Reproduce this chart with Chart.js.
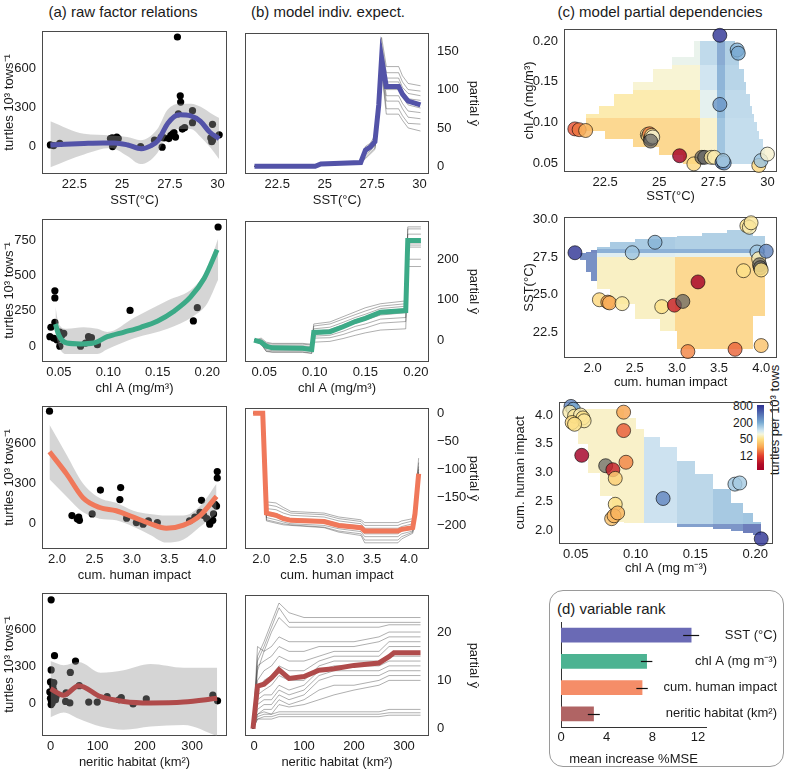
<!DOCTYPE html>
<html lang="en">
<head>
<meta charset="UTF-8">
<title>Turtle factor relations</title>
<script src="https://cdn.jsdelivr.net/npm/chart.js"></script>
<style>
  body { margin: 0; background: #fff; font-family: "Liberation Sans", Arial, sans-serif; }
  #page { position: relative; width: 785px; height: 771px; overflow: hidden; }
  #page canvas { position: absolute; }
  .ttl { position: absolute; font-size: 15px; color: #1a1a1a; white-space: nowrap; line-height: 18px; }
  .lab { position: absolute; font-size: 12px; color: #1a1a1a; white-space: nowrap; line-height: 14px; }
</style>
</head>
<body>
<div id="page">
  <div class="ttl" style="left:123px;top:3px;transform:translateX(-50%)">(a) raw factor relations</div>
  <div class="ttl" style="left:328px;top:3px;transform:translateX(-50%)">(b) model indiv. expect.</div>
  <div class="ttl" style="left:660px;top:3px;transform:translateX(-50%)">(c) model partial dependencies</div>
  <div style="position:absolute;left:549px;top:590px;width:233px;height:175px;border:1px solid #9a9a9a;border-radius:14px;"></div>
  <div class="ttl" style="left:557px;top:600px">(d) variable rank</div>
  <div id="cbar" style="position:absolute;left:757px;top:405px;width:7px;height:65px;"></div>
  <div class="lab" style="right:32px;top:399px">800</div>
  <div class="lab" style="right:32px;top:416px">200</div>
  <div class="lab" style="right:32px;top:432px">50</div>
  <div class="lab" style="right:32px;top:449px">12</div>
  <div class="lab" style="left:775px;top:420px;font-size:13px;transform:translate(-50%,-50%) rotate(-90deg)">turtles per 10³ tows</div>
</div>

<script>
// ---------- (a) raw observations, loess fits and bands ----------
const sstObsX = [21.24, 21.41, 21.73, 24.39, 24.48, 24.55, 24.6, 24.66, 24.72, 24.5, 24.8, 25.97, 26.7, 27.05, 27.1, 27.2, 27.45, 27.55, 27.65, 27.72, 27.8, 27.9, 27.95, 28.05, 28.07, 28.16, 28.28, 28.69, 28.69, 29.74, 29.65, 29.7, 29.74, 30.09];
const sstObsY = [12, 7, 24, 61, 66, 12, 49, 37, 73, 0, 61, 0, 49, 73, -5, 66, 61, 86, 98, 108, 73, 845, 252, 392, 343, 135, 147, 277, 184, 171, 66, 37, 49, 90];
const sstFitX = [21.24, 22.0, 23.0, 24.0, 24.6, 25.3, 26.0, 26.5, 26.9, 27.4, 28.0, 28.6, 29.1, 29.6, 30.09];
const sstFitY = [12, 18, 24, 28, 28, 12, -17, 5, 49, 180, 245, 237, 196, 110, 61];
const sstBandX = [21.24, 23.0, 24.4, 25.27, 25.97, 26.85, 27.37, 28.07, 28.6, 29.12, 29.65, 30.09];
const sstBandHi = [196, 98, 86, 73, 49, 135, 282, 330, 330, 306, 257, 220];
const sstBandLo = [-159, -61, -12, -73, -135, -49, 98, 135, 135, 73, -12, -98];

const chlObsX = [0.046, 0.046, 0.046, 0.042, 0.041, 0.045, 0.048, 0.051, 0.053, 0.051, 0.055, 0.072, 0.077, 0.080, 0.081, 0.083, 0.089, 0.122, 0.186, 0.19, 0.211];
const chlObsY = [392, 342, 168, 134, 67, 56, 45, 0, 78, 100, 90, 0, 22, 67, 45, 60, 11, 253, 179, 273, 844];
const chlFitX = [0.0466, 0.05, 0.058, 0.072, 0.085, 0.099, 0.116, 0.133, 0.15, 0.166, 0.183, 0.197, 0.21];
const chlFitY = [157, 78, 22, 16, 22, 67, 100, 134, 179, 246, 347, 481, 683];
const chlBandX = [0.0466, 0.05, 0.058, 0.075, 0.089, 0.099, 0.126, 0.16, 0.186, 0.2, 0.211];
const chlBandHi = [280, 157, 123, 134, 123, 100, 201, 324, 414, 548, 761];
const chlBandLo = [100, 0, -56, -56, -56, -22, 56, 123, 212, 302, 470];

const impObsX = [1.9, 2.2, 2.29, 2.3, 2.27, 2.47, 2.58, 2.85, 2.84, 2.93, 3.06, 3.15, 3.22, 3.34, 3.77, 3.84, 3.91, 3.93, 3.96, 4.0, 4.04, 4.04, 4.08, 4.09, 4.11, 4.13, 4.14, 4.14];
const impObsY = [837, 59, 47, 24, 35, 71, 249, 268, 178, 40, 7, -5, 19, 7, 19, 47, 83, 173, 59, 36, 12, -5, 24, 71, 142, 130, 387, 339];
const impFitX = [1.9, 2.13, 2.35, 2.57, 2.79, 3.02, 3.24, 3.46, 3.69, 3.91, 4.13];
const impFitY = [534, 368, 190, 119, 95, 47, 0, -36, -12, 59, 202];
const impBandHi = [735, 510, 296, 190, 154, 95, 71, 59, 59, 130, 296];
const impBandLo = [330, 200, 83, 36, 24, -24, -83, -142, -119, -24, 71];

const nerObsX = [1.4, 8.5, 1.4, 0, -1.4, 0, 1.4, 3.5, 7, 7, 10.6, 3.5, 33, 32, 42, 53, 41, 61, 81, 99, 120, 145, 150, 175, 203, 344, 354, 5, 2, 12];
const nerObsY = [834, 386, 272, 176, 96, 45, -5, 70, 171, 108, 33, 8, 88, 20, 252, 343, 8, 146, 15, 15, 58, 33, 50, 0, 40, 70, 25, 140, 20, 60];
const nerFitX = [0, 28, 60, 106, 155, 212, 282, 353];
const nerFitY = [121, 70, 146, 58, 20, 8, 15, 45];
const nerBandHi = [343, 310, 335, 250, 270, 320, 290, 290];
const nerBandLo = [-106, -68, -118, -181, -207, -181, -169, -257];

// ---------- (b) individual conditional expectation curves ----------
const iceSstX = [21.3, 24.5, 24.8, 26.9, 27.15, 27.4, 27.65, 27.85, 28.0, 28.25, 28.9, 29.1, 29.4, 30.05];
const iceSstMean = [0, 0, 3, 5, 21, 25, 32, 80, 141, 104, 104, 94, 85, 80];
const iceSstLines = [
  [0, 0, 3, 6, 26, 30, 40, 90, 168, 130, 130, 118, 108, 105],
  [0, 0, 3, 6, 24, 28, 36, 85, 160, 122, 122, 110, 100, 98],
  [0, 0, 3, 5, 22, 27, 34, 82, 152, 115, 115, 103, 95, 92],
  [0, 0, 3, 5, 20, 26, 33, 80, 146, 110, 110, 98, 88, 86],
  [0, 0, 2, 5, 19, 24, 31, 78, 140, 100, 100, 90, 80, 76],
  [0, 0, 2, 5, 17, 22, 29, 75, 135, 92, 92, 82, 72, 70],
  [0, 0, 2, 4, 15, 20, 27, 72, 130, 85, 85, 75, 64, 62],
  [0, 0, 2, 4, 12, 18, 24, 70, 128, 75, 75, 66, 56, 55],
  [0, 0, 2, 4, 10, 16, 22, 68, 125, 68, 68, 60, 50, 46]
];
const iceChlX = [0.04, 0.047, 0.052, 0.058, 0.088, 0.097, 0.099, 0.115, 0.128, 0.14, 0.15, 0.165, 0.19, 0.192, 0.205];
const iceChlMean = [0, -5, -15, -19, -20, -23, 19, 21, 33, 46, 54, 69, 73, 246, 246];
const iceChlLines = [
  [0, 5, -5, -8, -8, -10, 40, 45, 58, 70, 80, 90, 97, 280, 280],
  [0, 2, -8, -10, -10, -12, 35, 40, 52, 63, 72, 84, 90, 275, 275],
  [0, 0, -12, -14, -14, -16, 28, 32, 44, 56, 64, 78, 84, 262, 262],
  [0, -3, -16, -18, -18, -20, 22, 26, 38, 50, 58, 72, 78, 240, 240],
  [0, -6, -20, -22, -22, -25, 14, 18, 30, 42, 50, 62, 68, 235, 235],
  [0, -8, -24, -26, -26, -28, 10, 12, 22, 34, 40, 52, 56, 230, 230],
  [0, -10, -27, -29, -29, -32, 5, 6, 14, 24, 30, 42, 46, 200, 200],
  [0, -10, -28, -30, -30, -33, -5, -3, 4, 12, 18, 25, 28, 182, 182]
];
const iceImpX = [1.89, 2.02, 2.07, 2.2, 2.3, 2.4, 2.85, 3.05, 3.35, 3.4, 3.85, 3.9, 4.05, 4.08, 4.13];
const iceImpMean = [0, 0, -178, -182, -188, -191, -193, -200, -204, -210, -210, -207, -204, -180, -108];
const iceImpLines = [
  [0, 0, -158, -160, -168, -175, -178, -185, -190, -195, -195, -192, -188, -160, -80],
  [0, 0, -163, -166, -172, -178, -181, -188, -193, -200, -200, -197, -192, -165, -88],
  [0, 0, -170, -172, -178, -182, -185, -192, -197, -205, -205, -202, -197, -170, -95],
  [0, 0, -176, -179, -184, -188, -190, -197, -201, -210, -210, -206, -202, -175, -100],
  [0, 0, -182, -185, -190, -193, -195, -202, -207, -215, -215, -210, -206, -180, -105],
  [0, 0, -186, -190, -194, -197, -200, -206, -211, -220, -220, -215, -210, -185, -110],
  [0, 0, -190, -194, -197, -199, -203, -210, -215, -226, -226, -220, -212, -188, -110],
  [0, 0, -192, -196, -199, -200, -204, -212, -218, -231, -231, -224, -214, -190, -112]
];
const iceNerX = [-2, 7, 20, 35, 50, 70, 100, 130, 160, 200, 250, 270, 280, 333];
const iceNerMean = [0, 8.8, 9.2, 10.5, 12.2, 10.4, 10.8, 12.1, 12.4, 13.1, 13.6, 14.9, 15.7, 15.7];
const iceNerLines = [
  [0, 15, 18, 22, 26, 24, 23, 23, 23, 23, 23, 23, 23, 23],
  [0, 14, 17, 21, 25, 22, 22, 22, 22, 22, 22, 22, 22, 22],
  [0, 12, 16, 20, 23, 21, 21, 21, 21, 21, 21, 21.5, 21.5, 21.5],
  [0, 17, 16, 17, 19, 18, 18, 18, 18, 18, 19, 20, 20, 20],
  [0, 13, 14, 15, 17, 16, 16, 17, 17, 17, 18, 19, 19, 19],
  [0, 10, 12, 13, 15, 14, 14, 15, 16, 16, 16, 18, 18, 18],
  [0, 8, 10, 11, 13, 12, 12, 14, 15, 15, 15, 17, 17, 17],
  [0, 7, 8, 9, 11, 10, 10, 13, 14, 14, 14, 15, 15, 15],
  [0, 6, 7, 7, 9, 8, 9, 12, 13, 13, 13, 14, 14, 14],
  [0, 5, 6, 6, 8, 7, 8, 11, 12, 12, 12, 13, 13, 13],
  [0, 4, 5, 5, 7, 6, 7, 10, 11, 11, 11, 12, 12, 12],
  [0, 3, 4, 4, 6, 5, 6, 8, 9, 9, 10, 11, 11, 11],
  [0, 3, 3.5, 3, 5, 4.5, 5, 6, 7, 8, 9, 10, 10, 10],
  [0, 2.5, 3, 3, 3.5, 3.5, 3.5, 3.5, 3.5, 3.5, 3.5, 4, 4, 4],
  [0, 2, 2.5, 2.5, 3, 3, 3, 3, 3, 3, 3, 3.3, 3.3, 3.3],
  [0, 2, 2, 2, 2.5, 2.5, 2.5, 2.5, 2.5, 2.5, 2.5, 2.8, 2.8, 2.8]
];

// ---------- (c) two-way partial dependence: hull strips, zones, observed sites ----------
const c1StripLo = [0.049, 0.06, 0.07, 0.08, 0.09, 0.1, 0.11, 0.12, 0.135, 0.15, 0.165, 0.18];
const c1StripHi = [0.06, 0.07, 0.08, 0.09, 0.1, 0.11, 0.12, 0.135, 0.15, 0.165, 0.18, 0.2];
const c1StripFrom = [26.1, 25.0, 23.8, 22.5, 21.6, 21.6, 22.2, 22.9, 23.8, 24.7, 25.6, 26.6];
const c1StripTo = [30.0, 29.9, 29.8, 29.6, 29.5, 29.4, 29.3, 29.2, 29.0, 28.9, 28.7, 28.5];
const c1BreakX = [26.9, 27.68, 28.05];
const c1BreakY = [0.105, 0.14, 0.17];
const c1Zone = [[40, 65, 175, 125], [55, 90, 200, 130], [68, 110, 220, 140], [85, 130, 250, 150]];
const c1SiteX = [27.8, 28.6, 28.65, 27.8, 21.1, 21.3, 21.6, 24.45, 24.5, 24.55, 24.6, 24.65, 24.7, 24.6, 25.94, 26.6, 26.97, 27.1, 27.4, 27.55, 27.9, 28.0, 27.95, 29.6, 29.7, 30.0];
const c1SiteY = [0.207, 0.189, 0.185, 0.122, 0.092, 0.091, 0.09, 0.085, 0.083, 0.086, 0.08, 0.084, 0.082, 0.077, 0.059, 0.049, 0.057, 0.057, 0.057, 0.057, 0.051, 0.05, 0.053, 0.047, 0.053, 0.061];
const c1SiteN = [845, 180, 200, 250, 14, 18, 30, 60, 45, 20, 0, 55, 70, 0, 5, 45, 0, 0, 55, 60, 300, 250, 140, 45, 150, 70];

const c2StripLo = [1.85, 1.92, 1.98, 2.05, 2.2, 2.5, 2.8, 3.0, 3.3, 3.6, 3.9];
const c2StripHi = [1.92, 1.98, 2.05, 2.2, 2.5, 2.8, 3.0, 3.3, 3.6, 3.9, 4.05];
const c2StripFrom = [27.3, 26.5, 25.9, 25.4, 24.4, 23.4, 22.6, 21.35, 21.35, 21.35, 23.6];
const c2StripTo = [27.8, 27.85, 27.95, 28.2, 28.5, 28.7, 28.85, 28.95, 29.1, 29.3, 28.9];
const c2BreakX = [2.05, 2.98];
const c2BreakY = [27.5, 27.75, 28.05];
const c2Zone = [[380, 62, 40], [380, 95, 90], [420, 230, 230], [380, 160, 150]];
const c2SiteX = [1.79, 2.47, 2.74, 2.08, 2.18, 2.2, 2.35, 2.82, 2.97, 3.07, 3.25, 3.13, 3.69, 4.0, 3.79, 3.83, 3.86, 3.88, 3.95, 3.97, 3.98, 3.99, 4.06, 4.0];
const c2SiteY = [27.8, 27.8, 28.5, 24.66, 24.5, 24.45, 24.4, 24.2, 24.3, 24.55, 25.85, 21.2, 21.35, 21.6, 26.6, 29.6, 29.5, 29.8, 27.85, 27.4, 27.0, 26.8, 27.9, 26.65];
const c2SiteN = [845, 150, 180, 45, 25, 28, 55, 50, 8, 0, 5, 20, 16, 35, 50, 50, 60, 55, 150, 60, 0, 0, 300, 50];

const c3StripLo = [0.052, 0.06, 0.07, 0.08, 0.09, 0.1, 0.107, 0.12, 0.135, 0.15, 0.165, 0.18, 0.19, 0.198];
const c3StripHi = [0.06, 0.07, 0.08, 0.09, 0.1, 0.107, 0.12, 0.135, 0.15, 0.165, 0.18, 0.19, 0.198, 0.205];
const c3StripFrom = [3.5, 3.0, 2.6, 2.14, 2.12, 2.12, 2.12, 2.12, 2.06, 2.06, 2.02, 1.98, 1.95, 1.92];
const c3StripTo = [4.1, 4.1, 4.1, 4.1, 3.95, 3.75, 3.62, 3.45, 3.2, 2.97, 2.72, 2.48, 2.3, 2.15];
const c3BreakX = [0.107, 0.135, 0.165, 0.19];
const c3BreakY = [2.1];
const c3Zone = [[55, 115, 300, 350, 500], [64, 115, 135, 165, 175]];
const c3SiteX = [0.046, 0.048, 0.045, 0.049, 0.054, 0.056, 0.057, 0.047, 0.049, 0.055, 0.09, 0.09, 0.092, 0.075, 0.081, 0.083, 0.083, 0.08, 0.082, 0.085, 0.123, 0.183, 0.187, 0.205];
const c3SiteY = [4.15, 4.1, 4.05, 3.98, 4.0, 3.95, 3.9, 3.87, 3.84, 3.3, 4.05, 3.73, 3.18, 3.12, 3.05, 2.9, 2.45, 2.2, 2.25, 2.3, 2.55, 2.8, 2.82, 1.85];
const c3SiteN = [300, 200, 60, 55, 60, 50, 55, 45, 50, 5, 25, 15, 20, 0, 8, 40, 50, 35, 30, 30, 300, 150, 140, 845];

// ---------- (d) variable importance ----------
const rankLabels = ['SST (°C)', 'chl A (mg m⁻³)', 'cum. human impact', 'neritic habitat (km²)'];
const rankVals = [11.4, 7.5, 7.1, 2.85];
const rankErrLo = [10.7, 7.0, 6.6, 2.35];
const rankErrHi = [12.1, 8.0, 7.6, 3.4];

// ---------- tick values ----------
const tickSst = [22.5, 25, 27.5, 30];
const tickChl = [0.05, 0.1, 0.15, 0.2];
const tickImp = [2, 2.5, 3, 3.5, 4];
const tickNer = [0, 100, 200, 300];
const tickRawSst = [0, 300, 600];
const tickRawChl = [0, 250, 500, 750];
const tickIceSst = [0, 50, 100, 150];
const tickIceChl = [0, 100, 200];
const tickIceImp = [-200, -150, -100, -50, 0];
const tickIceNer = [0, 10, 20];
const tickSstY = [22.5, 25, 27.5, 30];
const tickMse = [0, 4, 8, 12];

// ---------- styling ----------
const COL_SST = '#5353a8', COL_CHL = '#3caa87', COL_IMP = '#f0785a', COL_NER = '#b04b4b';
const BAR_COLS = ['#6a6ab5', '#4db392', '#f58d68', '#b06464'];
const HEAT_ALPHA = 0.8;
const CM_V = [5, 12, 25, 50, 75, 100, 200, 800];
const CM_C = [[165, 0, 38], [225, 60, 45], [248, 165, 80], [253, 225, 135], [244, 246, 222], [210, 232, 242], [120, 170, 210], [50, 55, 150]];

function turtleRGB(v) {
  if (v <= 0) return [95, 95, 95];
  if (v <= CM_V[0]) return CM_C[0];
  for (let i = 1; i < CM_V.length; i++) {
    if (v <= CM_V[i]) {
      const t = (Math.log(v) - Math.log(CM_V[i - 1])) / (Math.log(CM_V[i]) - Math.log(CM_V[i - 1]));
      return CM_C[i - 1].map((c, k) => Math.round(c + t * (CM_C[i][k] - c)));
    }
  }
  return CM_C[CM_C.length - 1];
}
function paleRGB(v) {
  const c = turtleRGB(v).map(k => Math.round(k * HEAT_ALPHA + 255 * (1 - HEAT_ALPHA)));
  return `rgb(${c[0]},${c[1]},${c[2]})`;
}
function siteRGBA(v) {
  const c = turtleRGB(v);
  return `rgba(${c[0]},${c[1]},${c[2]},${v <= 0 ? 0.7 : 0.82})`;
}

// colour bar (log scale, 800 at top)
(function () {
  const stops = [870, 800, 400, 200, 100, 75, 50, 25, 12, 6, 3.7];
  const top = Math.log(870), bot = Math.log(3.7);
  const parts = stops.map(v => {
    const c = turtleRGB(v);
    return `rgb(${c[0]},${c[1]},${c[2]}) ${((top - Math.log(v)) / (top - bot) * 100).toFixed(1)}%`;
  });
  document.getElementById('cbar').style.background = `linear-gradient(to bottom, ${parts.join(', ')})`;
})();

const FONT = '"Liberation Sans", Arial, sans-serif';
Chart.defaults.font.family = FONT;
Chart.defaults.font.size = 13;
Chart.defaults.color = '#1a1a1a';

const page = document.getElementById('page');

function makeCanvas(L, T, W, H, m) {
  const c = document.createElement('canvas');
  const cw = W + m.l + m.r, ch = H + m.t + m.b;
  c.width = cw; c.height = ch;
  c.style.left = (L - m.l) + 'px'; c.style.top = (T - m.t) + 'px';
  c.style.width = cw + 'px'; c.style.height = ch + 'px';
  page.appendChild(c);
  return c;
}

const xy = (xs, ys) => xs.map((x, i) => ({ x, y: ys[i] }));
const minus = v => (v < 0 ? '\u2212' + Math.abs(v) : String(v));

function axis(pos, min, max, vals, title, size, fmt) {
  const horiz = pos === 'bottom';
  const ticks = { padding: horiz ? 3 : (pos === 'right' ? 8 : 6), maxRotation: 0, autoSkip: false };
  if (fmt) ticks.callback = fmt;
  return {
    type: 'linear', position: pos, min, max,
    grid: { display: false, drawTicks: false },
    border: { display: false },
    ticks,
    afterBuildTicks(ax) { ax.ticks = vals.map(v => ({ value: v })); },
    title: { display: !!title, text: title, padding: { top: 2, bottom: 2 } },
    afterFit(ax) { if (horiz) ax.height = size; else ax.width = size; }
  };
}

function baseOptions(x, y, pad) {
  return {
    responsive: false, animation: false, devicePixelRatio: 1,
    layout: { padding: pad },
    plugins: { legend: { display: false }, tooltip: { enabled: false } },
    scales: { x, y }
  };
}

const framePlugin = {
  id: 'frame',
  beforeDatasetsDraw(chart) {
    const a = chart.chartArea, ctx = chart.ctx;
    ctx.save();
    ctx.strokeStyle = '#4a4a4a'; ctx.lineWidth = 1;
    ctx.strokeRect(Math.round(a.left) + 0.5, Math.round(a.top) + 0.5, Math.round(a.width) - 1, Math.round(a.height) - 1);
    ctx.restore();
  }
};

function heatPlugin(dir, lo, hi, from, to, bx, by, zone) {
  return {
    id: 'heat',
    beforeDatasetsDraw(chart) {
      const { ctx, scales: { x, y } } = chart;
      ctx.save();
      for (let i = 0; i < lo.length; i++) {
        const x0 = dir === 'h' ? from[i] : lo[i], x1 = dir === 'h' ? to[i] : hi[i];
        const y0 = dir === 'h' ? lo[i] : from[i], y1 = dir === 'h' ? hi[i] : to[i];
        const xs = [x0, ...bx.filter(b => b > x0 && b < x1), x1];
        const ys = [y0, ...by.filter(b => b > y0 && b < y1), y1];
        for (let a = 0; a < xs.length - 1; a++) {
          for (let b = 0; b < ys.length - 1; b++) {
            const cx = (xs[a] + xs[a + 1]) / 2, cy = (ys[b] + ys[b + 1]) / 2;
            const zi = bx.filter(v => v <= cx).length, zj = by.filter(v => v <= cy).length;
            ctx.fillStyle = paleRGB(zone[zj][zi]);
            const px0 = Math.round(x.getPixelForValue(xs[a])), px1 = Math.round(x.getPixelForValue(xs[a + 1]));
            const py0 = Math.round(y.getPixelForValue(ys[b + 1])), py1 = Math.round(y.getPixelForValue(ys[b]));
            ctx.fillRect(px0, py0, px1 - px0, py1 - py0);
          }
        }
      }
      ctx.restore();
    }
  };
}

const ROW_T = [23, 211, 398, 585];
const YT = 'turtles 10³ tows⁻¹';

// ---------- column (a) ----------
function rawPanel(T, ox, oy, fx, fy, bx, bhi, blo, color, xr, yr, xt, yt, xtitle) {
  const cv = makeCanvas(42, T, 185, 151, { l: 42, r: 4, t: 6, b: 36 });
  new Chart(cv, {
    type: 'line',
    data: {
      datasets: [
        { data: xy(fx, fy), borderColor: color, borderWidth: 5, pointRadius: 0, cubicInterpolationMode: 'monotone', fill: false },
        { data: xy(bx, bhi), borderColor: 'transparent', borderWidth: 0, pointRadius: 0, cubicInterpolationMode: 'monotone', fill: false },
        { data: xy(bx, blo), borderColor: 'transparent', borderWidth: 0, pointRadius: 0, cubicInterpolationMode: 'monotone', fill: '-1', backgroundColor: 'rgba(150,150,150,0.4)' },
        { data: xy(ox, oy), showLine: false, pointRadius: 3.6, pointBackgroundColor: '#000', pointBorderWidth: 0 }
      ]
    },
    options: baseOptions(axis('bottom', xr[0], xr[1], xt, xtitle, 36), axis('left', yr[0], yr[1], yt, YT, 42), { top: 6, right: 4, left: 0, bottom: 0 }),
    plugins: [framePlugin]
  });
}

rawPanel(ROW_T[0], sstObsX, sstObsY, sstFitX, sstFitY, sstBandX, sstBandHi, sstBandLo, COL_SST, [20.8, 30.5], [-212, 893], tickSst, tickRawSst, 'SST(°C)');
rawPanel(ROW_T[1], chlObsX, chlObsY, chlFitX, chlFitY, chlBandX, chlBandHi, chlBandLo, COL_CHL, [0.033, 0.22], [-112, 902], tickChl, tickRawChl, 'chl A (mg/m³)');
rawPanel(ROW_T[2], impObsX, impObsY, impFitX, impFitY, impFitX, impBandHi, impBandLo, COL_IMP, [1.8, 4.27], [-190, 877], tickImp, tickRawSst, 'cum. human impact');
rawPanel(ROW_T[3], nerObsX, nerObsY, nerFitX, nerFitY, nerFitX, nerBandHi, nerBandLo, COL_NER, [-18, 374], [-257, 890], tickNer, tickRawSst, 'neritic habitat (km²)');

// ---------- column (b) ----------
function icePanel(T, gx, mean, lines, color, xr, yr, xt, yt, xtitle) {
  const cv = makeCanvas(245, T, 184, 151, { l: 4, r: 54, t: 6, b: 36 });
  const ds = [{ data: xy(gx, mean), borderColor: color, borderWidth: 5, pointRadius: 0, fill: false }];
  lines.forEach(l => ds.push({ data: xy(gx, l), borderColor: 'rgba(30,30,30,0.45)', borderWidth: 0.8, pointRadius: 0, fill: false }));
  new Chart(cv, {
    type: 'line',
    data: { datasets: ds },
    options: baseOptions(axis('bottom', xr[0], xr[1], xt, xtitle, 36), axis('right', yr[0], yr[1], yt, 'partial y\u0302', 54, minus), { top: 6, right: 0, left: 4, bottom: 0 }),
    plugins: [framePlugin]
  });
}

icePanel(ROW_T[0], iceSstX, iceSstMean, iceSstLines, COL_SST, [20.8, 30.5], [-10, 174], tickSst, tickIceSst, 'SST(°C)');
icePanel(ROW_T[1], iceChlX, iceChlMean, iceChlLines, COL_CHL, [0.031, 0.213], [-54, 295], tickChl, tickIceChl, 'chl A (mg/m³)');
icePanel(ROW_T[2], iceImpX, iceImpMean, iceImpLines, COL_IMP, [1.78, 4.27], [-242, 9.5], tickImp, tickIceImp, 'cum. human impact');
icePanel(ROW_T[3], iceNerX, iceNerMean, iceNerLines, COL_NER, [-18, 350], [-1.5, 27.7], tickNer, tickIceNer, 'neritic habitat (km²)');

// ---------- column (c) ----------
function heatPanel(L, T, W, H, ml, heat, sx, sy, sn, xr, yr, xt, yt, xtitle, ytitle, fx, fy) {
  const cv = makeCanvas(L, T, W, H, { l: ml, r: 3, t: 10, b: 34 });
  new Chart(cv, {
    type: 'line',
    data: {
      datasets: [{
        data: xy(sx, sy), showLine: false, clip: false, pointRadius: 7,
        pointBackgroundColor: sn.map(siteRGBA), pointBorderColor: 'rgba(0,0,0,0.75)', pointBorderWidth: 0.8
      }]
    },
    options: baseOptions(axis('bottom', xr[0], xr[1], xt, xtitle, 34, fx), axis('left', yr[0], yr[1], yt, ytitle, ml, fy), { top: 10, right: 3, left: 0, bottom: 0 }),
    plugins: [heat, framePlugin]
  });
}

const f1 = v => v.toFixed(1), f2 = v => v.toFixed(2);
heatPanel(564, 25, 218, 147, 44, heatPlugin('h', c1StripLo, c1StripHi, c1StripFrom, c1StripTo, c1BreakX, c1BreakY, c1Zone),
  c1SiteX, c1SiteY, c1SiteN, [20.6, 30.45], [0.039, 0.215], tickSst, tickChl, 'SST(°C)', 'chl A (mg/m³)', null, f2);
heatPanel(564, 213, 218, 145, 44, heatPlugin('v', c2StripLo, c2StripHi, c2StripFrom, c2StripTo, c2BreakX, c2BreakY, c2Zone),
  c2SiteX, c2SiteY, c2SiteN, [1.66, 4.19], [20.77, 30.2], tickImp, tickSstY, 'cum. human impact', 'SST(°C)', f1, f1);
heatPanel(559, 398, 219, 146, 48, heatPlugin('v', c3StripLo, c3StripHi, c3StripFrom, c3StripTo, c3BreakX, c3BreakY, c3Zone),
  c3SiteX, c3SiteY, c3SiteN, [0.036, 0.215], [1.76, 4.23], tickChl, tickImp, 'chl A (mg m⁻³)', 'cum. human impact', f2, f1);

// ---------- (d) ----------
// error bars and right-aligned category names, placed through the chart's own scales
const rankPlugin = {
  id: 'rank',
  afterDatasetsDraw(chart) {
    const { ctx, chartArea, scales: { x, y } } = chart;
    ctx.save();
    ctx.strokeStyle = '#111'; ctx.lineWidth = 1.2;
    rankErrLo.forEach((lo, i) => {
      const py = Math.round(y.getPixelForValue(i)) + 0.5;
      ctx.beginPath();
      ctx.moveTo(x.getPixelForValue(lo), py);
      ctx.lineTo(x.getPixelForValue(rankErrHi[i]), py);
      ctx.stroke();
    });
    ctx.fillStyle = '#1a1a1a';
    ctx.font = '13px ' + FONT;
    ctx.textAlign = 'right'; ctx.textBaseline = 'middle';
    rankLabels.forEach((s, i) => ctx.fillText(s, chartArea.right + 71, y.getPixelForValue(i)));
    ctx.restore();
  }
};

const cvD = makeCanvas(561, 622, 145, 105, { l: 8, r: 71, t: 4, b: 42 });
new Chart(cvD, {
  type: 'bar',
  data: { labels: rankLabels, datasets: [{ data: rankVals, backgroundColor: BAR_COLS, barThickness: 14, borderWidth: 0 }] },
  options: {
    indexAxis: 'y', responsive: false, animation: false, devicePixelRatio: 1,
    layout: { padding: { top: 4, left: 0, right: 0, bottom: 0 } },
    plugins: { legend: { display: false }, tooltip: { enabled: false } },
    scales: {
      x: {
        type: 'linear', position: 'bottom', min: 0, max: 12.7,
        grid: { display: false, drawTicks: false }, border: { display: true, color: '#333' },
        ticks: { padding: 3 },
        afterBuildTicks(ax) { ax.ticks = tickMse.map(v => ({ value: v })); },
        title: { display: true, text: 'mean increase %MSE', padding: { top: 2, bottom: 2 } },
        afterFit(a) { a.height = 42; }
      },
      y: {
        type: 'category', position: 'right',
        grid: { display: false, drawTicks: false }, border: { display: false },
        ticks: { display: false },
        afterFit(a) { a.width = 71; }
      },
      yl: {
        type: 'category', position: 'left',
        grid: { display: false, drawTicks: false }, border: { display: true, color: '#333' },
        ticks: { display: false },
        afterFit(a) { a.width = 8; }
      }
    }
  },
  plugins: [rankPlugin]
});
</script>
</body>
</html>
